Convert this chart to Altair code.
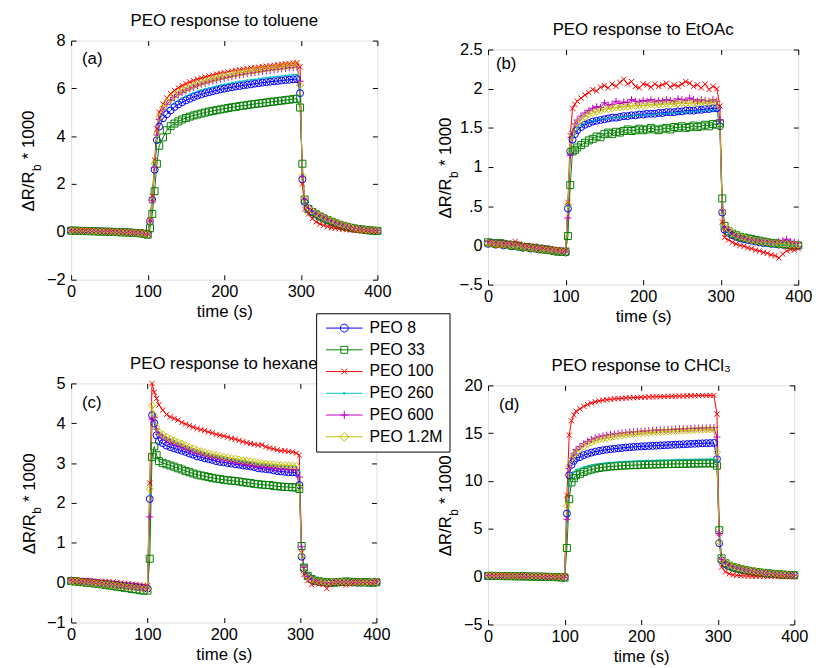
import altair as alt
import pandas as pd

FONT = "Liberation Sans"

SERIES = ["PEO 8", "PEO 33", "PEO 100", "PEO 260", "PEO 600", "PEO 1.2M"]
COLORS = ["#0000FF", "#008000", "#FF0000", "#00BFBF", "#BF00BF", "#BFBF00"]

TIME = [0, 5, 10, 15, 20, 25, 30, 35, 40, 45, 50, 55, 60, 65, 70, 75, 80, 85, 90, 95, 100,
        103, 106, 109, 112, 115,
        120, 125, 130, 135, 140, 145, 150, 155, 160, 165, 170, 175, 180, 185, 190, 195,
        200, 205, 210, 215, 220, 225, 230, 235, 240, 245, 250, 255, 260, 265, 270, 275,
        280, 285, 290, 295,
        299, 302, 305,
        310, 315, 320, 325, 330, 335, 340, 345, 350, 355, 360, 365, 370, 375, 380, 385,
        390, 395, 400]

# ---------------- (a) toluene ----------------
A_PEO8 = [0.06, 0.05, 0.05, 0.04, 0.04, 0.03, 0.03, 0.02, 0.02, 0.01, 0.01, 0.00, 0.00, -0.01, -0.02, -0.02, -0.03, -0.04, -0.05, -0.07, -0.10,
          0.44, 1.33, 2.60, 3.84, 4.40,
          4.75, 4.92, 5.08, 5.22, 5.33, 5.42, 5.50, 5.57, 5.64, 5.70, 5.75, 5.80, 5.84, 5.88, 5.92, 5.96, 5.99, 6.02, 6.05, 6.08,
          6.10, 6.13, 6.15, 6.17, 6.20, 6.22, 6.24, 6.26, 6.28, 6.30, 6.31, 6.33, 6.35, 6.36, 6.38, 6.39,
          5.80, 2.20, 1.25,
          0.98, 0.85, 0.75, 0.66, 0.58, 0.50, 0.43, 0.37, 0.31, 0.26, 0.22, 0.18, 0.15, 0.12, 0.10, 0.08, 0.06, 0.05, 0.04]
A_PEO33 = [0.05, 0.05, 0.04, 0.04, 0.03, 0.03, 0.02, 0.02, 0.01, 0.01, 0.00, 0.00, -0.01, -0.02, -0.02, -0.03, -0.04, -0.05, -0.06, -0.08, -0.12,
           0.15, 0.75, 1.70, 2.85, 3.60,
           3.95, 4.25, 4.42, 4.53, 4.62, 4.70, 4.76, 4.82, 4.87, 4.91, 4.95, 4.99, 5.03, 5.06, 5.09, 5.12, 5.15, 5.18, 5.21, 5.23,
           5.26, 5.28, 5.30, 5.33, 5.35, 5.37, 5.39, 5.41, 5.43, 5.45, 5.47, 5.49, 5.51, 5.53, 5.55, 5.57,
           5.20, 2.85, 1.35,
           0.95, 0.83, 0.73, 0.64, 0.56, 0.49, 0.42, 0.36, 0.30, 0.25, 0.21, 0.17, 0.14, 0.12, 0.10, 0.08, 0.06, 0.05, 0.04]
A_PEO100 = [0.07, 0.06, 0.06, 0.05, 0.05, 0.04, 0.04, 0.03, 0.03, 0.02, 0.02, 0.01, 0.01, 0.00, -0.01, -0.01, -0.02, -0.03, -0.04, -0.06, -0.08,
            0.50, 1.50, 3.00, 4.30, 5.00,
            5.35, 5.60, 5.78, 5.92, 6.03, 6.12, 6.20, 6.27, 6.33, 6.39, 6.44, 6.48, 6.52, 6.56, 6.60, 6.63, 6.66, 6.69, 6.72, 6.75,
            6.78, 6.80, 6.83, 6.85, 6.87, 6.89, 6.91, 6.93, 6.95, 6.97, 6.99, 7.01, 7.03, 7.04, 7.06, 7.08,
            6.90, 2.00, 0.95,
            0.75, 0.55, 0.42, 0.33, 0.27, 0.22, 0.18, 0.15, 0.13, 0.11, 0.09, 0.08, 0.07, 0.06, 0.05, 0.05, 0.04, 0.04, 0.03]
A_PEO260 = [0.06, 0.05, 0.05, 0.04, 0.04, 0.03, 0.03, 0.02, 0.02, 0.01, 0.01, 0.00, 0.00, -0.01, -0.01, -0.02, -0.03, -0.04, -0.05, -0.07, -0.09,
            0.45, 1.35, 2.70, 4.00, 4.65,
            4.95, 5.12, 5.27, 5.40, 5.51, 5.60, 5.68, 5.75, 5.82, 5.88, 5.93, 5.98, 6.02, 6.06, 6.10, 6.14, 6.17, 6.20, 6.23, 6.26,
            6.29, 6.31, 6.34, 6.36, 6.38, 6.40, 6.43, 6.45, 6.47, 6.49, 6.50, 6.52, 6.54, 6.55, 6.57, 6.58,
            6.00, 2.30, 1.30,
            0.97, 0.85, 0.76, 0.67, 0.59, 0.52, 0.45, 0.39, 0.33, 0.28, 0.23, 0.19, 0.16, 0.13, 0.11, 0.09, 0.07, 0.05, 0.04]
A_PEO600 = [0.07, 0.06, 0.05, 0.05, 0.04, 0.04, 0.03, 0.03, 0.02, 0.02, 0.01, 0.01, 0.00, -0.01, -0.01, -0.02, -0.03, -0.04, -0.05, -0.07, -0.10,
            0.45, 1.30, 2.70, 4.05, 4.70,
            5.10, 5.33, 5.50, 5.63, 5.74, 5.83, 5.91, 5.98, 6.05, 6.11, 6.17, 6.22, 6.27, 6.31, 6.35, 6.39, 6.43, 6.46, 6.50, 6.53,
            6.56, 6.59, 6.62, 6.64, 6.67, 6.69, 6.71, 6.74, 6.76, 6.78, 6.80, 6.82, 6.84, 6.86, 6.87, 6.89,
            6.30, 2.30, 1.35,
            0.99, 0.87, 0.77, 0.68, 0.60, 0.53, 0.46, 0.40, 0.34, 0.29, 0.24, 0.20, 0.16, 0.13, 0.11, 0.09, 0.07, 0.06, 0.05]
A_PEO12M = [0.05, 0.05, 0.04, 0.04, 0.03, 0.03, 0.02, 0.02, 0.01, 0.01, 0.00, -0.01, -0.01, -0.02, -0.03, -0.03, -0.04, -0.05, -0.06, -0.08, -0.12,
            0.45, 1.30, 2.85, 4.10, 4.80,
            5.20, 5.42, 5.58, 5.71, 5.82, 5.91, 5.99, 6.06, 6.13, 6.19, 6.25, 6.30, 6.35, 6.39, 6.43, 6.47, 6.51, 6.54, 6.58, 6.61,
            6.64, 6.67, 6.70, 6.72, 6.75, 6.77, 6.80, 6.82, 6.84, 6.86, 6.88, 6.90, 6.92, 6.94, 6.96, 6.98,
            6.14, 2.35, 1.38,
            1.00, 0.88, 0.78, 0.69, 0.61, 0.54, 0.47, 0.41, 0.35, 0.29, 0.24, 0.20, 0.16, 0.13, 0.11, 0.09, 0.07, 0.06, 0.05]

# ---------------- (b) EtOAc ----------------
B_PEO8 = [0.02, 0.03, 0.01, 0.02, 0.00, 0.01, -0.01, -0.01, -0.02, -0.03, -0.02, -0.04, -0.04, -0.05, -0.05, -0.06, -0.06, -0.07, -0.07, -0.08, -0.09,
          0.47, 1.20, 1.35, 1.42, 1.47,
          1.51, 1.54, 1.56, 1.58, 1.59, 1.60, 1.61, 1.62, 1.63, 1.63, 1.64, 1.65, 1.65, 1.66, 1.66, 1.67, 1.67, 1.68, 1.68, 1.68,
          1.69, 1.69, 1.70, 1.70, 1.70, 1.71, 1.71, 1.72, 1.72, 1.72, 1.73, 1.73, 1.74, 1.74, 1.75, 1.75,
          1.52, 0.42, 0.20,
          0.16, 0.13, 0.11, 0.09, 0.08, 0.07, 0.06, 0.05, 0.04, 0.03, 0.03, 0.02, 0.02, 0.01, 0.01, 0.01, 0.00, 0.00, 0.00]
B_PEO33 = [0.04, 0.03, 0.02, 0.03, 0.02, 0.01, 0.00, 0.00, -0.01, -0.02, -0.02, -0.03, -0.03, -0.04, -0.05, -0.05, -0.06, -0.07, -0.08, -0.08, -0.08,
           0.12, 0.77, 1.20, 1.22, 1.25,
           1.28, 1.31, 1.34, 1.36, 1.39, 1.38, 1.42, 1.44, 1.42, 1.45, 1.44, 1.46, 1.48, 1.46, 1.47, 1.49, 1.47, 1.48, 1.50, 1.48,
           1.47, 1.49, 1.50, 1.48, 1.51, 1.50, 1.52, 1.50, 1.51, 1.53, 1.51, 1.52, 1.54, 1.52, 1.55, 1.54,
           1.56, 0.60, 0.25,
           0.18, 0.15, 0.13, 0.11, 0.10, 0.09, 0.08, 0.07, 0.06, 0.05, 0.04, 0.03, 0.03, 0.02, 0.02, 0.01, 0.01, 0.00, 0.00]
B_PEO100 = [0.03, 0.01, 0.03, 0.00, 0.02, 0.03, 0.01, 0.05, 0.02, -0.01, 0.00, -0.03, -0.01, -0.04, -0.03, -0.05, -0.04, -0.06, -0.05, -0.07, -0.06,
            0.55, 1.40, 1.75, 1.80, 1.84,
            1.88, 1.92, 1.95, 1.99, 1.97, 2.02, 2.04, 2.01, 2.06, 2.03, 2.08, 2.12, 2.06, 2.09, 2.03, 2.01, 2.06, 2.05, 2.02, 2.06,
            2.03, 2.05, 2.07, 2.02, 2.05, 2.03, 2.06, 2.09, 2.07, 2.03, 2.05, 2.01, 2.06, 1.99, 2.03, 2.00,
            1.78, 0.30, 0.10,
            0.07, 0.04, 0.02, 0.00, -0.01, -0.03, -0.04, -0.06, -0.07, -0.09, -0.10, -0.12, -0.13, -0.16, -0.11, -0.07, -0.05, -0.06, -0.04]
B_PEO260 = [0.02, 0.02, 0.01, 0.01, 0.00, 0.00, -0.01, -0.02, -0.02, -0.03, -0.03, -0.04, -0.05, -0.05, -0.06, -0.06, -0.07, -0.07, -0.08, -0.08, -0.09,
            0.50, 1.22, 1.38, 1.44, 1.49,
            1.53, 1.56, 1.58, 1.59, 1.60, 1.61, 1.62, 1.62, 1.63, 1.63, 1.64, 1.64, 1.65, 1.65, 1.66, 1.66, 1.66, 1.67, 1.67, 1.67,
            1.68, 1.68, 1.68, 1.69, 1.69, 1.69, 1.70, 1.70, 1.70, 1.71, 1.71, 1.71, 1.72, 1.72, 1.72, 1.73,
            1.50, 0.42, 0.20,
            0.15, 0.12, 0.10, 0.09, 0.07, 0.06, 0.05, 0.04, 0.04, 0.03, 0.02, 0.02, 0.01, 0.01, 0.00, 0.00, 0.00, -0.01, 0.00]
B_PEO600 = [0.05, 0.03, 0.04, 0.02, 0.03, 0.01, 0.02, 0.00, 0.01, -0.01, -0.02, -0.02, -0.03, -0.04, -0.03, -0.05, -0.05, -0.06, -0.07, -0.07, -0.08,
            0.35, 1.15, 1.45, 1.55, 1.60,
            1.65, 1.69, 1.72, 1.75, 1.77, 1.76, 1.82, 1.79, 1.80, 1.84, 1.81, 1.83, 1.82, 1.86, 1.84, 1.83, 1.85, 1.84, 1.86, 1.83,
            1.85, 1.84, 1.86, 1.85, 1.84, 1.87, 1.86, 1.85, 1.88, 1.86, 1.84, 1.86, 1.85, 1.84, 1.86, 1.84,
            1.60, 0.45, 0.22,
            0.20, 0.15, 0.12, 0.11, 0.09, 0.08, 0.07, 0.06, 0.06, 0.05, 0.05, 0.04, 0.04, 0.05, 0.06, 0.08, 0.05, 0.04, 0.03]
B_PEO12M = [0.03, 0.02, 0.02, 0.01, 0.01, 0.00, 0.00, -0.01, -0.02, -0.02, -0.03, -0.03, -0.04, -0.05, -0.05, -0.06, -0.06, -0.07, -0.07, -0.08, -0.08,
            0.52, 1.22, 1.42, 1.50, 1.56,
            1.60, 1.64, 1.67, 1.69, 1.71, 1.72, 1.74, 1.74, 1.75, 1.76, 1.76, 1.77, 1.77, 1.78, 1.78, 1.79, 1.78, 1.79, 1.80, 1.79,
            1.80, 1.80, 1.81, 1.80, 1.81, 1.81, 1.82, 1.81, 1.82, 1.82, 1.81, 1.83, 1.82, 1.82, 1.83, 1.82,
            1.50, 0.43, 0.23,
            0.21, 0.16, 0.13, 0.11, 0.10, 0.08, 0.07, 0.06, 0.05, 0.04, 0.04, 0.03, 0.03, 0.02, 0.02, 0.02, 0.01, 0.01, 0.01]

# ---------------- (c) hexane ----------------
C_PEO8 = [0.05, 0.04, 0.03, 0.02, 0.02, 0.01, 0.00, -0.01, -0.02, -0.03, -0.04, -0.05, -0.06, -0.07, -0.08, -0.09, -0.10, -0.11, -0.12, -0.13, -0.15,
          2.10, 4.20, 4.00, 3.70, 3.55,
          3.50, 3.44, 3.40, 3.37, 3.34, 3.31, 3.28, 3.24, 3.21, 3.17, 3.15, 3.12, 3.10, 3.08, 3.05, 3.03, 3.02, 3.00, 2.99, 2.97,
          2.96, 2.94, 2.93, 2.92, 2.90, 2.87, 2.86, 2.85, 2.84, 2.82, 2.80, 2.79, 2.78, 2.77, 2.77, 2.76,
          2.45, 0.65, 0.36,
          0.15, 0.08, 0.04, 0.02, 0.01, 0.00, 0.00, 0.01, 0.02, 0.02, 0.02, 0.01, 0.01, 0.00, 0.00, 0.01, 0.01, 0.00, 0.01]
C_PEO33 = [0.04, 0.03, 0.02, 0.01, 0.00, -0.01, -0.02, -0.03, -0.04, -0.06, -0.07, -0.08, -0.10, -0.11, -0.13, -0.14, -0.16, -0.17, -0.19, -0.20, -0.20,
           0.60, 3.15, 3.42, 3.20, 3.05,
           3.00, 2.97, 2.94, 2.91, 2.87, 2.84, 2.80, 2.77, 2.74, 2.71, 2.69, 2.67, 2.65, 2.63, 2.61, 2.60, 2.58, 2.57, 2.56, 2.55,
           2.54, 2.52, 2.51, 2.50, 2.48, 2.47, 2.46, 2.45, 2.45, 2.43, 2.42, 2.41, 2.40, 2.40, 2.39, 2.39,
           2.35, 0.92, 0.38,
           0.17, 0.09, 0.05, 0.03, 0.02, 0.01, 0.00, 0.00, 0.01, 0.02, 0.03, 0.02, 0.02, 0.01, 0.01, 0.01, 0.00, 0.00, 0.01]
C_PEO100 = [0.06, 0.05, 0.05, 0.04, 0.06, 0.05, 0.03, 0.04, 0.02, 0.03, 0.01, 0.02, 0.00, -0.01, -0.02, -0.03, -0.04, -0.05, -0.06, -0.07, -0.08,
            2.50, 5.00, 4.78, 4.62, 4.46,
            4.33, 4.22, 4.16, 4.12, 4.08, 4.02, 3.98, 3.94, 3.90, 3.87, 3.84, 3.82, 3.78, 3.76, 3.72, 3.70, 3.68, 3.65, 3.62, 3.60,
            3.57, 3.54, 3.51, 3.49, 3.47, 3.45, 3.46, 3.41, 3.38, 3.36, 3.33, 3.31, 3.31, 3.29, 3.28, 3.25,
            3.20, 0.75, 0.20,
            0.05, -0.05, 0.00, -0.03, -0.05, -0.15, -0.05, 0.00, 0.02, -0.03, -0.06, -0.04, 0.00, 0.02, 0.00, 0.01, 0.00, 0.01, 0.02]
C_PEO260 = [0.05, 0.04, 0.03, 0.03, 0.02, 0.01, 0.00, -0.01, -0.02, -0.03, -0.04, -0.05, -0.06, -0.07, -0.08, -0.10, -0.11, -0.12, -0.13, -0.14, -0.15,
            2.20, 4.20, 4.10, 3.80, 3.68,
            3.68, 3.62, 3.57, 3.53, 3.49, 3.45, 3.41, 3.37, 3.33, 3.30, 3.27, 3.24, 3.21, 3.19, 3.17, 3.15, 3.13, 3.11, 3.09, 3.08,
            3.06, 3.04, 3.03, 3.01, 3.00, 2.98, 2.97, 2.96, 2.95, 2.94, 2.93, 2.92, 2.92, 2.91, 2.91, 2.90,
            2.80, 0.70, 0.35,
            0.14, 0.08, 0.04, 0.02, 0.01, 0.00, 0.00, 0.00, 0.01, 0.02, 0.02, 0.01, 0.01, 0.00, 0.00, 0.00, 0.01, 0.01, 0.01]
C_PEO600 = [0.06, 0.05, 0.04, 0.03, 0.02, 0.01, 0.00, -0.01, -0.02, -0.03, -0.04, -0.05, -0.06, -0.07, -0.09, -0.10, -0.11, -0.12, -0.13, -0.14, -0.16,
            1.65, 4.10, 4.15, 3.85, 3.72,
            3.65, 3.58, 3.53, 3.49, 3.45, 3.41, 3.37, 3.33, 3.29, 3.26, 3.23, 3.20, 3.17, 3.15, 3.13, 3.10, 3.08, 3.06, 3.04, 3.02,
            3.00, 2.98, 2.96, 2.95, 2.93, 2.91, 2.90, 2.89, 2.88, 2.87, 2.86, 2.85, 2.85, 2.84, 2.84, 2.83,
            2.65, 0.90, 0.38,
            0.16, 0.07, 0.03, 0.01, 0.00, -0.01, 0.00, 0.01, 0.02, 0.03, 0.02, 0.01, 0.00, 0.00, 0.01, 0.00, 0.00, 0.01, 0.02]
C_PEO12M = [0.04, 0.03, 0.02, 0.01, 0.00, -0.01, -0.02, -0.03, -0.04, -0.05, -0.06, -0.07, -0.08, -0.09, -0.10, -0.11, -0.12, -0.13, -0.14, -0.15, -0.16,
            2.35, 4.45, 4.20, 3.90, 3.78,
            3.72, 3.66, 3.61, 3.57, 3.53, 3.49, 3.45, 3.41, 3.37, 3.33, 3.30, 3.27, 3.24, 3.22, 3.20, 3.18, 3.16, 3.14, 3.12, 3.11,
            3.09, 3.07, 3.06, 3.04, 3.03, 3.01, 3.00, 2.99, 2.98, 2.97, 2.96, 2.95, 2.95, 2.94, 2.94, 2.93,
            2.40, 0.68, 0.36,
            0.15, 0.08, 0.05, 0.03, 0.02, 0.01, 0.01, 0.02, 0.02, 0.03, 0.02, 0.02, 0.01, 0.01, 0.01, 0.00, 0.01, 0.01, 0.02]

# ---------------- (d) CHCl3 ----------------
D_PEO8 = [0.10, 0.10, 0.09, 0.08, 0.08, 0.07, 0.06, 0.06, 0.05, 0.04, 0.04, 0.03, 0.02, 0.02, 0.01, 0.00, -0.01, -0.02, -0.04, -0.06, -0.08,
          6.60, 10.60, 11.70, 12.10, 12.40,
          12.50, 12.70, 12.85, 12.97, 13.07, 13.15, 13.22, 13.28, 13.33, 13.38, 13.42, 13.46, 13.50, 13.53, 13.56, 13.59,
          13.62, 13.64, 13.66, 13.68, 13.70, 13.72, 13.74, 13.76, 13.78, 13.80, 13.82, 13.84, 13.86, 13.88, 13.90, 13.92,
          13.94, 13.96, 13.97, 13.98,
          12.30, 3.50, 1.70,
          1.30, 1.10, 0.95, 0.84, 0.75, 0.67, 0.60, 0.53, 0.47, 0.42, 0.37, 0.33, 0.29, 0.26, 0.23, 0.20, 0.18, 0.16, 0.14]
D_PEO33 = [0.08, 0.08, 0.07, 0.07, 0.06, 0.05, 0.05, 0.04, 0.03, 0.03, 0.02, 0.01, 0.00, 0.00, -0.01, -0.02, -0.03, -0.04, -0.06, -0.08, -0.10,
           3.00, 8.10, 9.85, 10.30, 10.60,
           10.75, 10.95, 11.10, 11.20, 11.30, 11.37, 11.43, 11.48, 11.52, 11.55, 11.58, 11.61, 11.63, 11.65, 11.67, 11.68,
           11.70, 11.71, 11.72, 11.73, 11.74, 11.75, 11.76, 11.77, 11.78, 11.79, 11.80, 11.80, 11.81, 11.82, 11.83, 11.83,
           11.84, 11.84, 11.85, 11.85,
           11.60, 4.85, 1.90,
           1.40, 1.15, 1.00, 0.88, 0.78, 0.70, 0.62, 0.55, 0.49, 0.44, 0.39, 0.35, 0.31, 0.27, 0.24, 0.21, 0.19, 0.17, 0.15]
D_PEO100 = [0.12, 0.11, 0.11, 0.10, 0.09, 0.09, 0.08, 0.07, 0.07, 0.06, 0.05, 0.05, 0.04, 0.03, 0.03, 0.02, 0.01, 0.00, -0.01, -0.02, 0.05,
            8.50, 14.80, 16.30, 16.90, 17.30,
            17.55, 17.80, 18.00, 18.15, 18.28, 18.38, 18.45, 18.50, 18.55, 18.59, 18.62, 18.65, 18.68, 18.70, 18.72, 18.74,
            18.76, 18.77, 18.79, 18.80, 18.81, 18.82, 18.84, 18.85, 18.86, 18.87, 18.88, 18.89, 18.90, 18.91, 18.92, 18.93,
            18.94, 18.94, 18.95, 18.95,
            17.00, 4.50, 1.00,
            0.50, 0.30, 0.20, 0.14, 0.10, 0.08, 0.06, 0.05, 0.04, 0.03, 0.03, 0.02, 0.02, 0.01, 0.01, 0.01, 0.00, 0.00, 0.00]
D_PEO260 = [0.09, 0.09, 0.08, 0.08, 0.07, 0.06, 0.06, 0.05, 0.04, 0.04, 0.03, 0.02, 0.02, 0.01, 0.00, -0.01, -0.02, -0.03, -0.05, -0.07, -0.09,
            5.50, 9.50, 10.50, 10.90, 11.20,
            11.30, 11.45, 11.57, 11.66, 11.74, 11.80, 11.85, 11.89, 11.93, 11.96, 11.99, 12.02, 12.04, 12.06, 12.08, 12.10,
            12.11, 12.13, 12.14, 12.15, 12.17, 12.18, 12.19, 12.20, 12.21, 12.22, 12.23, 12.24, 12.25, 12.26, 12.27, 12.28,
            12.28, 12.29, 12.30, 12.30,
            12.00, 4.60, 1.80,
            1.35, 1.12, 0.97, 0.86, 0.76, 0.68, 0.61, 0.54, 0.48, 0.43, 0.38, 0.34, 0.30, 0.27, 0.24, 0.21, 0.19, 0.17, 0.15]
D_PEO600 = [0.11, 0.10, 0.10, 0.09, 0.08, 0.08, 0.07, 0.06, 0.06, 0.05, 0.04, 0.04, 0.03, 0.02, 0.01, 0.01, 0.00, -0.01, -0.03, -0.05, -0.07,
            6.00, 11.30, 12.40, 12.90, 13.30,
            13.60, 13.90, 14.15, 14.35, 14.50, 14.62, 14.72, 14.80, 14.87, 14.93, 14.98, 15.03, 15.07, 15.11, 15.15, 15.18,
            15.21, 15.24, 15.27, 15.30, 15.32, 15.34, 15.36, 15.38, 15.40, 15.42, 15.44, 15.46, 15.48, 15.50, 15.52, 15.53,
            15.55, 15.56, 15.58, 15.59,
            14.60, 4.50, 1.80,
            1.40, 1.18, 1.02, 0.90, 0.80, 0.72, 0.64, 0.57, 0.51, 0.45, 0.40, 0.36, 0.32, 0.28, 0.25, 0.22, 0.20, 0.18, 0.16]
D_PEO12M = [0.10, 0.09, 0.09, 0.08, 0.08, 0.07, 0.06, 0.06, 0.05, 0.05, 0.04, 0.03, 0.03, 0.02, 0.01, 0.00, -0.01, -0.02, -0.04, -0.06, -0.08,
            7.40, 11.60, 12.30, 12.70, 13.00,
            13.30, 13.60, 13.85, 14.05, 14.20, 14.32, 14.42, 14.50, 14.58, 14.65, 14.71, 14.77, 14.82, 14.87, 14.91, 14.95,
            14.99, 15.02, 15.05, 15.08, 15.11, 15.14, 15.16, 15.19, 15.21, 15.23, 15.25, 15.27, 15.29, 15.31, 15.33, 15.35,
            15.37, 15.38, 15.40, 15.41,
            13.00, 3.65, 1.75,
            1.50, 1.25, 1.08, 0.95, 0.85, 0.76, 0.68, 0.61, 0.54, 0.48, 0.43, 0.38, 0.34, 0.30, 0.27, 0.24, 0.21, 0.19, 0.17]

PANEL_SERIES = {
    "a": [A_PEO8, A_PEO33, A_PEO100, A_PEO260, A_PEO600, A_PEO12M],
    "b": [B_PEO8, B_PEO33, B_PEO100, B_PEO260, B_PEO600, B_PEO12M],
    "c": [C_PEO8, C_PEO33, C_PEO100, C_PEO260, C_PEO600, C_PEO12M],
    "d": [D_PEO8, D_PEO33, D_PEO100, D_PEO260, D_PEO600, D_PEO12M],
}

X_TICKS = [0, 100, 200, 300, 400]

rows = []
for key, arrays in PANEL_SERIES.items():
    for name, vals in zip(SERIES, arrays):
        if len(vals) != len(TIME):
            raise ValueError(f"panel {key} {name}: {len(vals)} values, expected {len(TIME)}")
        for t, v in zip(TIME, vals):
            rows.append({"panel": key, "series": name, "time": t, "value": v})
df = pd.DataFrame(rows)
ONE = pd.DataFrame({"k": [0]})

# marker shapes for the plotted points (MATLAB o, s, x, ., +, d)
PT_SHAPES = [
    "circle",
    "square",
    "M-0.75,-0.75L0.75,0.75M-0.75,0.75L0.75,-0.75",
    "M-0.2,0A0.2,0.2 0 1,0 0.2,0A0.2,0.2 0 1,0 -0.2,0",
    "M-1,0L1,0M0,-1L0,1",
    "diamond",
]
# legend glyphs: line with marker in the middle (1 unit = 5 px at symbolSize 100)
LEG_LINE = "M-1,0L6.4,0"
LEG_MARK = [
    "M1.9,0A0.8,0.8 0 1,0 3.5,0A0.8,0.8 0 1,0 1.9,0",
    "M2,-0.7L3.4,-0.7L3.4,0.7L2,0.7Z",
    "M2.1,-0.6L3.3,0.6M2.1,0.6L3.3,-0.6",
    "M2.5,0A0.2,0.2 0 1,0 2.9,0A0.2,0.2 0 1,0 2.5,0",
    "M1.9,0L3.5,0M2.7,-0.8L2.7,0.8",
    "M1.8,0L2.7,-0.9L3.6,0L2.7,0.9Z",
]
LEG_SHAPES = [LEG_LINE + m for m in LEG_MARK]

# legend position is measured from the top-left corner of panel (a)'s plot area
legend = alt.Legend(
    title=None, orient="none", legendX=248, legendY=276,
    symbolSize=100, symbolStrokeWidth=1, symbolOpacity=1, symbolFillColor="transparent",
    labelOffset=31, padding=7, rowPadding=6,
    strokeColor="black", fillColor="white", cornerRadius=0,
    labelFont=FONT, labelFontSize=16, labelColor="black", labelLimit=200,
)
cscale = alt.Scale(domain=SERIES, range=COLORS)
legshape = alt.Scale(domain=SERIES, range=LEG_SHAPES)

LABEL_KW = dict(labelFont=FONT, labelFontSize=16.5, labelColor="black", format="~r")
TITLE_KW = dict(titleFont=FONT, titleFontSize=17, titleFontWeight="normal", titleColor="black")


def txt(s, x, y, size=17, angle=0):
    return alt.Chart(ONE).mark_text(
        font=FONT, fontSize=size, angle=angle, align="left", baseline="alphabetic", color="black"
    ).encode(x=alt.value(x), y=alt.value(y), text=alt.value(s))


def panel(key, title, ydom, yvals, w, h, ylab_expr, ytx, lab_x, lab_y):
    src = alt.Chart(df).transform_filter(alt.datum.panel == key)
    xs = alt.Scale(domain=[0, 400], nice=False, zero=False)
    ys = alt.Scale(domain=ydom, nice=False, zero=False)
    tick_kw = dict(labels=False, ticks=True, tickSize=5, tickWidth=1, tickColor="black",
                   domain=False, grid=False, title=None)
    ax_x_main = alt.Axis(orient="bottom", values=X_TICKS, ticks=False, tickSize=0, labelPadding=4,
                         labelFlush=False, domain=False, grid=False, title="time (s)", titlePadding=4,
                         **LABEL_KW, **TITLE_KW)
    ax_x_in_bottom = alt.Axis(orient="top", offset=-h, values=X_TICKS, **tick_kw)
    ax_x_in_top = alt.Axis(orient="bottom", offset=-h, values=X_TICKS, **tick_kw)
    ykw = dict(orient="left", values=yvals, ticks=False, tickSize=0, labelPadding=6,
               labelFlush=False, domain=False, grid=False, title=None, **LABEL_KW)
    if ylab_expr:
        ykw["labelExpr"] = ylab_expr
    ax_y_main = alt.Axis(**ykw)
    ax_y_in_left = alt.Axis(orient="right", offset=-w, values=yvals, **tick_kw)
    ax_y_in_right = alt.Axis(orient="left", offset=-w, values=yvals, **tick_kw)

    color = alt.Color("series:N", scale=cscale, legend=legend)
    lines = src.mark_line(strokeWidth=1).encode(
        x=alt.X("time:Q", scale=xs, axis=ax_x_main),
        y=alt.Y("value:Q", scale=ys, axis=ax_y_main),
        color=color,
    )
    point_layers = []
    for i, (name, shp, col) in enumerate(zip(SERIES, PT_SHAPES, COLORS)):
        ax_x = ax_x_in_bottom if i == 0 else None
        ax_y = ax_y_in_left if i == 0 else None
        point_layers.append(
            src.transform_filter(alt.datum.series == name).mark_point(
                filled=False, size=50, strokeWidth=1, opacity=1, shape=shp, color=col
            ).encode(
                x=alt.X("time:Q", scale=xs, axis=ax_x),
                y=alt.Y("value:Q", scale=ys, axis=ax_y),
            )
        )
    # invisible layer: carries the inward ticks of the top/right frame and the legend glyphs
    frame = src.mark_point(opacity=0, filled=False).encode(
        x=alt.X("time:Q", scale=xs, axis=ax_x_in_top),
        y=alt.Y("value:Q", scale=ys, axis=ax_y_in_right),
        color=color,
        shape=alt.Shape("series:N", scale=legshape, legend=legend),
    )
    y0 = h / 2 + 52
    texts = [
        txt(f"({key})", lab_x, lab_y),
        txt("ΔR/R", ytx, y0, angle=270),
        txt("b", ytx + 7, y0 - 41, size=12, angle=270),
        txt("* 1000", ytx, y0 - 53, angle=270),
    ]
    return alt.layer(lines, *point_layers, frame, *texts).resolve_axis(
        x="independent", y="independent"
    ).properties(
        width=w, height=h,
        title=alt.TitleParams(text=title, font=FONT, fontSize=17, fontWeight="normal",
                              color="black", offset=3, anchor="middle"),
    )


pa = panel("a", "PEO response to toluene", [-2, 8], [-2, 0, 2, 4, 6, 8], 310, 242, None, -38, 11, 24)
pb = panel("b", "PEO response to EtOAc", [-0.5, 2.5], [-0.5, 0, 0.5, 1, 1.5, 2, 2.5], 314, 238,
           "datum.value == 0.5 ? '.5' : datum.value == -0.5 ? '\u2212.5' : datum.label", -37, 8, 20)
pc = panel("c", "PEO response to hexane", [-1, 5], [-1, 0, 1, 2, 3, 4, 5], 309, 242, None, -37, 11, 25)
pd_ = panel("d", "PEO response to CHCl\u2083", [-5, 20], [-5, 0, 5, 10, 15, 20], 310, 242, None, -37, 11, 25)

# a tiny empty view above (b) pushes the right column down a little
spacer = alt.Chart(ONE).mark_point(opacity=0).encode(
    x=alt.value(0), y=alt.value(0)
).properties(width=1, height=1, view=alt.ViewBackground(strokeOpacity=0))

col1 = alt.vconcat(pa, pc, spacing=34)
col2 = alt.vconcat(spacer, alt.vconcat(pb, pd_, spacing=31), spacing=-24)

chart = alt.hconcat(col1, col2, spacing=41).properties(
    padding={"left": 19, "top": 7, "right": 2, "bottom": 2},
    background="white",
).configure_view(
    stroke="black", strokeWidth=1
).configure(font=FONT)

chart.save("out.html", embed_options={"renderer": "svg", "actions": False})
